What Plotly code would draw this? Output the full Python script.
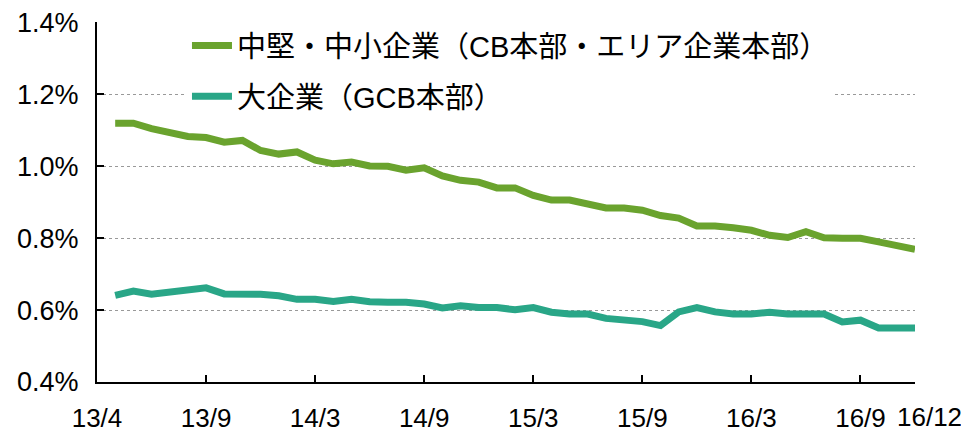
import plotly.graph_objects as go

# Months from 13/4 to 16/12 (45 monthly observations)
months = []
for yy in (13, 14, 15, 16):
    for mm in range(1, 13):
        if (yy == 13 and mm < 4):
            continue
        months.append(f"{yy}/{mm}")

sme = [1.12, 1.12, 1.105, 1.094, 1.083, 1.08, 1.067, 1.072, 1.044, 1.034,
       1.04, 1.017, 1.007, 1.012, 1.001, 1.0, 0.989, 0.996, 0.973, 0.961,
       0.956, 0.94, 0.94, 0.919, 0.906, 0.906, 0.894, 0.884, 0.884, 0.878,
       0.863, 0.856, 0.834, 0.834, 0.829, 0.822, 0.808, 0.802, 0.818, 0.801,
       0.80, 0.80, 0.79, 0.779, 0.769]
large = [0.641, 0.653, 0.644, 0.651, 0.656, 0.662, 0.645, 0.645, 0.644, 0.64,
         0.63, 0.63, 0.624, 0.63, 0.623, 0.622, 0.622, 0.617, 0.606, 0.612,
         0.607, 0.607, 0.601, 0.607, 0.594, 0.589, 0.589, 0.577, 0.572, 0.568,
         0.557, 0.595, 0.607, 0.595, 0.589, 0.589, 0.594, 0.589, 0.589, 0.589,
         0.567, 0.572, 0.55, 0.55, 0.55]

names = ["中堅・中小企業（CB本部・エリア企業本部）", "大企業（GCB本部）"]
colors = ["#6AA32E", "#29A687"]

tick_labels = ["13/4", "13/9", "14/3", "14/9", "15/3", "15/9", "16/3", "16/9"]
tick_pos = [0, 6, 12, 18, 24, 30, 36, 42]
end_label = "16/12"

# month index: 13/3 -> 0
def midx(s):
    y, m = s.split("/")
    return (int(y) - 13) * 12 + int(m) - 3

xs = [midx(m) for m in months]

FONT = "Liberation Sans, Arial, Noto Sans CJK JP"

fig = go.Figure()
for i, (nm, vals) in enumerate(zip(names, [sme, large])):
    fig.add_trace(go.Scatter(x=xs, y=vals, mode="lines", name=nm,
                             legendgroup=str(i),
                             line=dict(color=colors[i], width=7)))

fig.update_layout(
    width=961, height=425,
    margin=dict(l=89, r=54, t=14, b=51, autoexpand=False),
    paper_bgcolor="white", plot_bgcolor="white",
    font=dict(family=FONT, size=26, color="black"),
    showlegend=True,
    legend=dict(x=0.11, y=1.005, xanchor="left", yanchor="top",
                bgcolor="white", font=dict(size=29, family=FONT),
                traceorder="grouped", tracegroupgap=10,
                itemwidth=40),
    xaxis=dict(range=[0, 45], tickvals=tick_pos, ticktext=tick_labels,
               tickangle=0, showgrid=False, zeroline=False, automargin=False,
               showline=True, linecolor="black", linewidth=2,
               ticks="inside", ticklen=7, tickwidth=2, tickcolor="black",
               ticklabelstandoff=12, ticklabeloverflow="allow",
               tickfont=dict(size=26, family=FONT)),
    yaxis=dict(range=[0.4, 1.4015], dtick=0.2, tick0=0.4, tickformat=".1f",
               ticksuffix="%", showgrid=True, gridcolor="#999999",
               griddash="dot", gridwidth=1, zeroline=False, automargin=False,
               showline=True, linecolor="black", linewidth=2,
               ticks="inside", ticklen=7, tickwidth=2, tickcolor="black",
               ticklabelstandoff=11, ticklabeloverflow="allow",
               tickfont=dict(size=27, family=FONT)),
    annotations=[dict(x=45, y=0, xref="x", yref="paper", text=end_label,
                      showarrow=False, xanchor="left", yanchor="top",
                      xshift=-20, yshift=-18,
                      font=dict(size=26, family=FONT, color="black"))],
)

fig.write_html("out.html")
